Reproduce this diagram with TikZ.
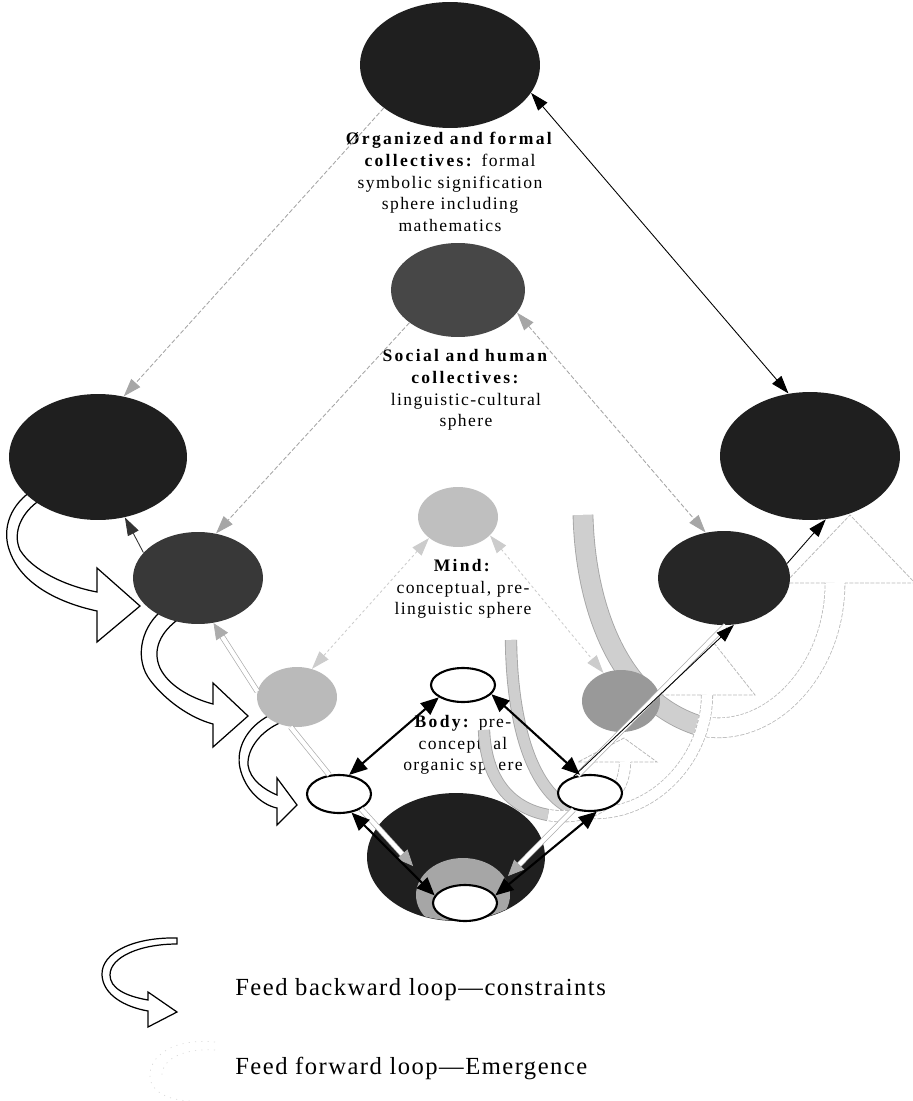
\documentclass[tikz,border=0pt]{standalone}
\usepackage{fontspec}
\setmainfont{Liberation Serif}
\newfontfamily\spherefont[LetterSpace=8, BoldFeatures={LetterSpace=13}]{Liberation Serif}
\newfontfamily\legendfont[LetterSpace=6]{Liberation Serif}
\usetikzlibrary{shapes.geometric, arrows.meta, positioning, backgrounds}

\begin{document}
\begin{tikzpicture}[
    x=0.02cm, y=-0.02cm,
    sph/.style={ellipse, inner sep=0pt, draw=none},
    darksph/.style={sph, fill=black!88},
    midsph/.style={sph, fill=black!78},
    lightsph/.style={sph, fill=black!30},
    hole/.style={sph, draw=black, fill=white, line width=1.2pt},
    lbl/.style={align=center, inner sep=0pt, font=\spherefont\fontsize{10}{12.3}\selectfont},
    leg/.style={anchor=west, inner sep=0pt, font=\legendfont\fontsize{14}{16}\selectfont},
    arr/.style={-{Triangle[length=0.36cm, width=0.24cm]}, line width=0.5pt},
    biarr/.style={{Triangle[length=0.36cm, width=0.24cm]}-{Triangle[length=0.36cm, width=0.24cm]}, line width=0.5pt},
    dotarr/.style={arr, gray!70, dash pattern=on 2.5pt off 1.2pt},
    dotbiarr/.style={biarr, gray!70, dash pattern=on 2.5pt off 1.2pt},
    faintarr/.style={biarr, gray!40, dash pattern=on 1.5pt off 1.5pt},
    boldarr/.style={{Triangle[length=0.36cm, width=0.3cm]}-{Triangle[length=0.36cm, width=0.3cm]}, line width=1.2pt},
    twin/.style={draw=gray!65, line width=0.4pt, double=white, double distance=2.4pt},
    twinarr/.style={twin, -{Triangle[length=0.32cm, width=0.28cm]}},
    fbloop/.style={draw=black, fill=white, line width=0.7pt, line join=miter},
    ffband/.style={draw=gray!70, line width=0.5pt, double=gray!38},
    ffshaft/.style={draw=gray!55, line width=0.45pt, double=white},
    ffgap/.style={white, dash pattern=on 0.8pt off 2.2pt},
    ffhead/.style={draw=gray!55, line width=0.45pt, dash pattern=on 2.2pt off 0.8pt}
]
\useasboundingbox (0,0) rectangle (912,1101);

%% ── Sphere labels (centre column) ───────────────────────────────────────────
\node[lbl] (orgtxt)  at (450,182) {\textbf{Ørganized and formal}\\\textbf{collectives:} formal\\symbolic signification\\sphere including\\mathematics};
\node[lbl] (soctxt)  at (466,390) {\textbf{Social and human}\\\textbf{collectives:}\\linguistic-cultural\\sphere};
\node[lbl] (mindtxt) at (463,589) {\textbf{Mind:}\\conceptual, pre-\\linguistic sphere};
\node[lbl] (bodytxt) at (463,745) {\textbf{Body:} pre-\\conceptual\\organic sphere};

%% ── Feed forward loops (right side) ─────────────────────────────────────────
% big loop -> outer right sphere
\draw[ffshaft, double distance=0.38cm] (700,726) .. controls (770,740) and (835,670) .. (835,583);
\draw[ffgap, line width=0.43cm] (700,726) .. controls (770,740) and (835,670) .. (835,583);
\draw[ffhead] (825,583) -- (785,583) -- (850,515) -- (915,583) -- (845,583);
\draw[ffband, double distance=0.38cm] (583,515) .. controls (585,600) and (615,700) .. (700,726);
% middle loop -> social sphere
\draw[ffshaft, double distance=0.21cm] (580,812) .. controls (650,822) and (707,760) .. (707,695);
\draw[ffgap, line width=0.26cm] (580,812) .. controls (650,822) and (707,760) .. (707,695);
\draw[ffhead] (701,695) -- (660,695) -- (714,643) -- (755,695) -- (713,695);
\draw[ffband, double distance=0.21cm] (511,640) .. controls (512,730) and (535,800) .. (580,812);
% small loop -> mind sphere
\draw[ffshaft, double distance=0.21cm] (548,815) .. controls (590,822) and (625,800) .. (625,762);
\draw[ffgap, line width=0.26cm] (548,815) .. controls (590,822) and (625,800) .. (625,762);
\draw[ffhead] (619,762) -- (578,762) -- (624,738) -- (657,762) -- (631,762);
\draw[ffband, double distance=0.21cm] (484,730) .. controls (486,780) and (510,808) .. (548,815);

%% ── Feed backward loops (left side) ─────────────────────────────────────────
\draw[fbloop] (30,492) .. controls (8,508) and (2,532) .. (10,552) .. controls (22,585) and (60,603) .. (97,611)
    -- (97,642) -- (140,606) -- (97,568) -- (97,592)
    .. controls (65,586) and (32,570) .. (20,550) .. controls (12,532) and (22,512) .. (40,500) -- cycle;
\draw[fbloop] (160,612) .. controls (140,630) and (135,660) .. (150,680) .. controls (165,700) and (190,718) .. (213,724)
    -- (213,747) -- (248,716) -- (213,683) -- (213,704)
    .. controls (190,698) and (168,685) .. (160,668) .. controls (152,650) and (160,632) .. (180,618) -- cycle;
\draw[fbloop] (270,715) .. controls (245,728) and (236,750) .. (240,768) .. controls (245,790) and (262,805) .. (277,808)
    -- (277,825) -- (297,805) -- (277,778) -- (277,795)
    .. controls (265,790) and (250,780) .. (248,765) .. controls (247,748) and (262,730) .. (282,722) -- cycle;

%% ── Spheres: centre column ──────────────────────────────────────────────────
\node[darksph,  minimum width=3.6cm,  minimum height=2.52cm] (org)  at (450,65)  {};
\node[midsph,   fill=black!72, minimum width=2.68cm, minimum height=1.88cm] (soc)  at (458,290) {};
\node[lightsph, fill=black!25, minimum width=1.6cm,  minimum height=1.2cm]  (mind) at (458,517) {};
\node[hole,     minimum width=1.28cm, minimum height=0.68cm] (body) at (463,685) {};

%% ── Spheres: left column ────────────────────────────────────────────────────
\node[darksph,  minimum width=3.56cm, minimum height=2.52cm] (orgl)  at (98,457)  {};
\node[midsph,   minimum width=2.6cm,  minimum height=1.84cm] (socl)  at (198,578) {};
\node[lightsph, fill=black!27, minimum width=1.6cm,  minimum height=1.2cm]  (mindl) at (297,697) {};
\node[hole,     minimum width=1.28cm, minimum height=0.76cm] (bodyl) at (339,794) {};

%% ── Spheres: right column ───────────────────────────────────────────────────
\node[darksph,  minimum width=3.6cm,  minimum height=2.56cm] (orgr)  at (810,456) {};
\node[midsph,   fill=black!85, minimum width=2.64cm, minimum height=1.88cm] (socr)  at (724,578) {};
\node[lightsph, fill=black!40, minimum width=1.56cm, minimum height=1.24cm] (mindr) at (621,701) {};
\node[hole,     minimum width=1.28cm, minimum height=0.72cm] (bodyr) at (590,793) {};

%% ── Bottom cone ─────────────────────────────────────────────────────────────
\node[darksph, minimum width=3.56cm, minimum height=2.56cm] (cone) at (456,857) {};
\begin{scope}
  \clip (cone.center) ellipse [x radius=1.77cm, y radius=1.27cm];
  \fill[black!35] (463,895) ellipse [x radius=0.94cm, y radius=0.74cm];
\end{scope}
\node[hole, minimum width=1.28cm, minimum height=0.72cm] (base) at (465,903) {};
\coordinate (conel) at (413,866);
\coordinate (coner) at (508,876);

%% ── Between levels (thin connectors) ────────────────────────────────────────
\draw[dotarr]   (org.213)  -- (orgl.67);
\draw[biarr]    (org.341)  -- (orgr.109);
\draw[dotarr]   (soc.214)  -- (socl.68);
\draw[dotbiarr] (soc.339)  -- (socr.112);
\draw[faintarr] (mind.216) -- (mindl.62);
\draw[faintarr] (mind.330) -- (mindr.122);

%% ── Left chain upwards ──────────────────────────────────────────────────────
\draw[twin]    (bodyl.117) -- (mindl.258);
\draw[twinarr] (mindl.172) -- (socl.289);
\draw[arr, black!80] (socl.155) -- (orgl.294);

%% ── Right chain upwards ─────────────────────────────────────────────────────
\draw[twin]   (bodyr.125) -- (socr.272);
\draw[arr]    (bodyr.135) -- (socr.282);
\draw[arr]    (socr.13)   -- (orgr.284);

%% ── Into the cone ───────────────────────────────────────────────────────────
\draw[twinarr] (bodyl.326) -- (conel);
\draw[twinarr] (bodyr.225) -- (coner);

%% ── Body level (bold) ───────────────────────────────────────────────────────
\draw[boldarr] (body.207)  -- (bodyl.62);
\draw[boldarr] (body.342)  -- (bodyr.119);
\draw[boldarr] (bodyl.304) -- (base.166);
\draw[boldarr] (bodyr.290) -- (base.14);

%% ── Legend ──────────────────────────────────────────────────────────────────
\draw[fbloop] (177,938) .. controls (135,937) and (101,952) .. (102,975) .. controls (103,995) and (125,1007) .. (148,1011)
    -- (148,1027) -- (177,1012) -- (148,992) -- (148,1000)
    .. controls (125,996) and (110,988) .. (110,975) .. controls (110,957) and (140,944) .. (177,944) -- cycle;
\draw[gray!30, dash pattern=on 0.6pt off 3pt] (215,1042) .. controls (175,1038) and (148,1055) .. (150,1078) .. controls (152,1092) and (168,1100) .. (190,1101);
\draw[gray!30, dash pattern=on 0.6pt off 3pt] (215,1050) .. controls (182,1048) and (160,1060) .. (162,1078);
\node[leg] (legfb) at (235,990)  {Feed backward loop—constraints};
\node[leg] (legff) at (235,1068) {Feed forward loop—Emergence};

\end{tikzpicture}
\end{document}
